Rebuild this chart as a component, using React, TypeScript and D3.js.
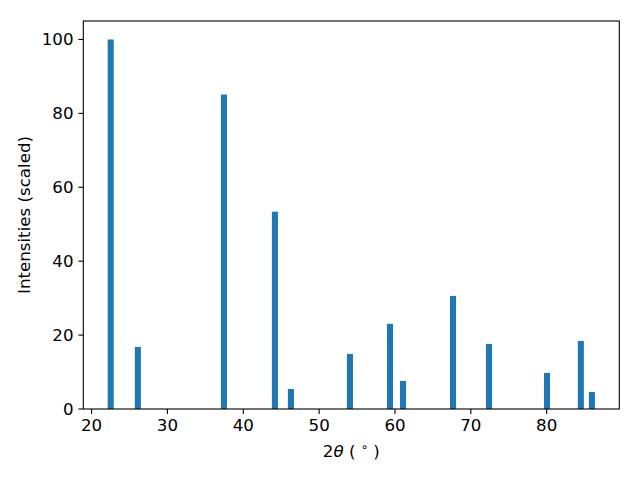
import React from "react";
import * as d3 from "d3";

const positions = [22.52, 26.1, 37.45, 44.17, 46.28, 54.06, 59.34, 61.06, 67.65, 72.4, 80.04, 84.5, 85.96];
const intensities = [100, 16.8, 85.1, 53.4, 5.4, 14.9, 23.05, 7.6, 30.6, 17.6, 9.76, 18.4, 4.6];
const xTicks = [20, 30, 40, 50, 60, 70, 80];
const yTicks = [0, 20, 40, 60, 80, 100];
const barWidth = 0.8;

const W = 640, H = 480;
const L = 83.3, R = 619.3, T = 21, B = 409;

export default function App() {
  const lo = d3.min(positions)! - barWidth / 2;
  const hi = d3.max(positions)! + barWidth / 2;
  const pad = (hi - lo) * 0.05;
  const x = d3.scaleLinear().domain([lo - pad, hi + pad]).range([L, R]);
  const ymax = d3.max(intensities)! * 1.05;
  const y = d3.scaleLinear().domain([0, ymax]).range([B, T]);
  const font = "DejaVu Sans, sans-serif";
  const fs = 16.67;
  return (
    <svg width={W} height={H} style={{ position: "absolute", left: 0, top: 0, background: "#fff" }} fontFamily={font}>
      <rect width={W} height={H} fill="#fff" />
      {positions.map((p, i) => (
        <rect key={i} x={x(p - barWidth / 2)} width={x(p + barWidth / 2) - x(p - barWidth / 2)}
          y={y(intensities[i])} height={y(0) - y(intensities[i])} fill="#1f77b4" />
      ))}
      <rect x={L} y={T} width={R - L} height={B - T} fill="none" stroke="#000" strokeWidth={1.1} />
      {xTicks.map((t) => (
        <g key={t} transform={`translate(${x(t)},${B})`}>
          <line y2={4.9} stroke="#000" strokeWidth={1.1} />
          <text y={22} textAnchor="middle" fontSize={fs} fill="#000">{t}</text>
        </g>
      ))}
      {yTicks.map((t) => (
        <g key={t} transform={`translate(${L},${y(t)})`}>
          <line x2={-4.9} stroke="#000" strokeWidth={1.1} />
          <text x={-9.8} dy="0.36em" textAnchor="end" fontSize={fs} fill="#000">{t}</text>
        </g>
      ))}
      <text x={(L + R) / 2} y={457} textAnchor="middle" fontSize={fs} fill="#000" xmlSpace="preserve">
        2<tspan fontStyle="italic">θ</tspan> ( <tspan fontSize={fs * 0.7} dy={-6}>∘</tspan><tspan dy={6}> )</tspan>
      </text>
      <text transform={`translate(30,${(T + B) / 2}) rotate(-90)`} textAnchor="middle" fontSize={fs} fill="#000">
        Intensities (scaled)
      </text>
    </svg>
  );
}
